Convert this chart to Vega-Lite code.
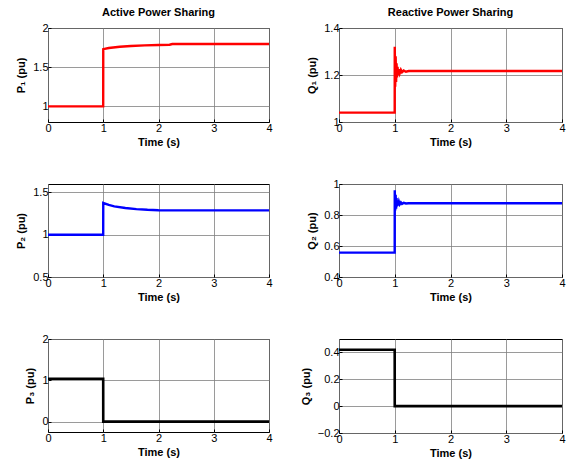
{
  "$schema": "https://vega.github.io/schema/vega-lite/v6.json",
  "padding": {"left": 15, "top": 6, "right": 5, "bottom": 5},
  "background": "white",
  "datasets": {
    "d": [
      {"s": "P1", "t": 0, "v": 1.0}, {"s": "P1", "t": 0.999, "v": 1.0}, {"s": "P1", "t": 1.0, "v": 1.73},
      {"s": "P1", "t": 1.1, "v": 1.745}, {"s": "P1", "t": 1.3, "v": 1.76}, {"s": "P1", "t": 1.5, "v": 1.77},
      {"s": "P1", "t": 1.75, "v": 1.778}, {"s": "P1", "t": 2.0, "v": 1.783}, {"s": "P1", "t": 2.2, "v": 1.786},
      {"s": "P1", "t": 2.25, "v": 1.795}, {"s": "P1", "t": 4, "v": 1.795},

      {"s": "Q1", "t": 0, "v": 1.04}, {"s": "Q1", "t": 0.999, "v": 1.04}, {"s": "Q1", "t": 1.0, "v": 1.32},
      {"s": "Q1", "t": 1.008, "v": 1.15}, {"s": "Q1", "t": 1.016, "v": 1.28}, {"s": "Q1", "t": 1.024, "v": 1.17},
      {"s": "Q1", "t": 1.032, "v": 1.25}, {"s": "Q1", "t": 1.04, "v": 1.19}, {"s": "Q1", "t": 1.05, "v": 1.235},
      {"s": "Q1", "t": 1.06, "v": 1.2}, {"s": "Q1", "t": 1.075, "v": 1.225}, {"s": "Q1", "t": 1.09, "v": 1.208},
      {"s": "Q1", "t": 1.11, "v": 1.222}, {"s": "Q1", "t": 1.13, "v": 1.212}, {"s": "Q1", "t": 1.16, "v": 1.219},
      {"s": "Q1", "t": 1.2, "v": 1.214}, {"s": "Q1", "t": 1.25, "v": 1.217}, {"s": "Q1", "t": 4, "v": 1.217},

      {"s": "P2", "t": 0, "v": 1.0}, {"s": "P2", "t": 0.999, "v": 1.0}, {"s": "P2", "t": 1.0, "v": 1.375},
      {"s": "P2", "t": 1.1, "v": 1.352}, {"s": "P2", "t": 1.2, "v": 1.336}, {"s": "P2", "t": 1.4, "v": 1.316},
      {"s": "P2", "t": 1.6, "v": 1.303}, {"s": "P2", "t": 1.8, "v": 1.295}, {"s": "P2", "t": 2.0, "v": 1.29},
      {"s": "P2", "t": 4, "v": 1.288},

      {"s": "Q2", "t": 0, "v": 0.557}, {"s": "Q2", "t": 0.999, "v": 0.557}, {"s": "Q2", "t": 1.0, "v": 0.96},
      {"s": "Q2", "t": 1.008, "v": 0.83}, {"s": "Q2", "t": 1.016, "v": 0.93}, {"s": "Q2", "t": 1.024, "v": 0.84},
      {"s": "Q2", "t": 1.032, "v": 0.91}, {"s": "Q2", "t": 1.04, "v": 0.855}, {"s": "Q2", "t": 1.05, "v": 0.895},
      {"s": "Q2", "t": 1.06, "v": 0.862}, {"s": "Q2", "t": 1.075, "v": 0.886}, {"s": "Q2", "t": 1.09, "v": 0.869},
      {"s": "Q2", "t": 1.11, "v": 0.881}, {"s": "Q2", "t": 1.13, "v": 0.872}, {"s": "Q2", "t": 1.16, "v": 0.878},
      {"s": "Q2", "t": 1.2, "v": 0.874}, {"s": "Q2", "t": 1.25, "v": 0.876}, {"s": "Q2", "t": 4, "v": 0.876},

      {"s": "P3", "t": 0, "v": 1.04}, {"s": "P3", "t": 0.999, "v": 1.04}, {"s": "P3", "t": 1.0, "v": 0.0},
      {"s": "P3", "t": 4, "v": 0.0},

      {"s": "Q3", "t": 0, "v": 0.42}, {"s": "Q3", "t": 0.999, "v": 0.42}, {"s": "Q3", "t": 1.0, "v": 0.0},
      {"s": "Q3", "t": 4, "v": 0.0}
    ]
  },
  "data": {"name": "d"},
  "bounds": "flush",
  "columns": 2,
  "spacing": {"row": 62, "column": 70},
  "concat": [
    {
      "width": 221, "height": 94,
      "title": {"text": "Active Power Sharing"},
      "transform": [{"filter": "datum.s === 'P1'"}],
      "mark": {"type": "line", "color": "#ff0000", "strokeWidth": 2.4, "clip": true},
      "encoding": {
        "x": {"field": "t", "type": "quantitative", "scale": {"domain": [0, 4], "nice": false}, "axis": {"values": [0, 1, 2, 3, 4], "title": "Time (s)"}},
        "y": {"field": "v", "type": "quantitative", "scale": {"domain": [0.8, 2], "nice": false, "zero": false}, "axis": {"values": [1, 1.5, 2], "title": "P₁ (pu)"}}
      }
    },
    {
      "width": 223, "height": 94,
      "title": {"text": "Reactive Power Sharing"},
      "transform": [{"filter": "datum.s === 'Q1'"}],
      "mark": {"type": "line", "color": "#ff0000", "strokeWidth": 2.4, "clip": true},
      "encoding": {
        "x": {"field": "t", "type": "quantitative", "scale": {"domain": [0, 4], "nice": false}, "axis": {"values": [0, 1, 2, 3, 4], "title": "Time (s)"}},
        "y": {"field": "v", "type": "quantitative", "scale": {"domain": [1, 1.4], "nice": false, "zero": false}, "axis": {"values": [1, 1.2, 1.4], "title": "Q₁ (pu)"}}
      }
    },
    {
      "width": 221, "height": 93,
      "transform": [{"filter": "datum.s === 'P2'"}],
      "mark": {"type": "line", "color": "#0000ff", "strokeWidth": 2.4, "clip": true},
      "encoding": {
        "x": {"field": "t", "type": "quantitative", "scale": {"domain": [0, 4], "nice": false}, "axis": {"values": [0, 1, 2, 3, 4], "title": "Time (s)"}},
        "y": {"field": "v", "type": "quantitative", "scale": {"domain": [0.5, 1.6], "nice": false, "zero": false}, "axis": {"values": [0.5, 1, 1.5], "title": "P₂ (pu)"}}
      }
    },
    {
      "width": 223, "height": 93,
      "transform": [{"filter": "datum.s === 'Q2'"}],
      "mark": {"type": "line", "color": "#0000ff", "strokeWidth": 2.4, "clip": true},
      "encoding": {
        "x": {"field": "t", "type": "quantitative", "scale": {"domain": [0, 4], "nice": false}, "axis": {"values": [0, 1, 2, 3, 4], "title": "Time (s)"}},
        "y": {"field": "v", "type": "quantitative", "scale": {"domain": [0.4, 1], "nice": false, "zero": false}, "axis": {"values": [0.4, 0.6, 0.8, 1], "title": "Q₂ (pu)"}}
      }
    },
    {
      "width": 221, "height": 93,
      "transform": [{"filter": "datum.s === 'P3'"}],
      "mark": {"type": "line", "color": "#000000", "strokeWidth": 2.6, "clip": true},
      "encoding": {
        "x": {"field": "t", "type": "quantitative", "scale": {"domain": [0, 4], "nice": false}, "axis": {"values": [0, 1, 2, 3, 4], "title": "Time (s)"}},
        "y": {"field": "v", "type": "quantitative", "scale": {"domain": [-0.25, 2], "nice": false, "zero": false}, "axis": {"values": [0, 1, 2], "title": "P₃ (pu)"}}
      }
    },
    {
      "width": 223, "height": 94,
      "transform": [{"filter": "datum.s === 'Q3'"}],
      "mark": {"type": "line", "color": "#000000", "strokeWidth": 2.6, "clip": true},
      "encoding": {
        "x": {"field": "t", "type": "quantitative", "scale": {"domain": [0, 4], "nice": false}, "axis": {"values": [0, 1, 2, 3, 4], "title": "Time (s)"}},
        "y": {"field": "v", "type": "quantitative", "scale": {"domain": [-0.2, 0.5], "nice": false, "zero": false}, "axis": {"values": [-0.2, 0, 0.2, 0.4], "title": "Q₃ (pu)"}}
      }
    }
  ],
  "config": {
    "font": "Liberation Sans",
    "view": {"stroke": "#000000", "strokeWidth": 1},
    "title": {"font": "Liberation Sans", "fontSize": 11, "fontWeight": "bold", "color": "#000", "offset": 4, "anchor": "middle"},
    "axis": {
      "domain": false,
      "grid": true,
      "gridColor": "#808080",
      "gridWidth": 0.8,
      "tickSize": -3,
      "tickColor": "#000",
      "labelFont": "Liberation Sans",
      "labelFontSize": 11,
      "labelColor": "#000",
      "labelPadding": 3,
      "format": "~g",
      "titleFont": "Liberation Sans",
      "titleFontSize": 11,
      "titleFontWeight": "bold",
      "titleColor": "#000"
    },
    "axisX": {"titlePadding": 3, "labelFlush": false},
    "axisY": {"titlePadding": 6, "labelFlush": false}
  }
}
